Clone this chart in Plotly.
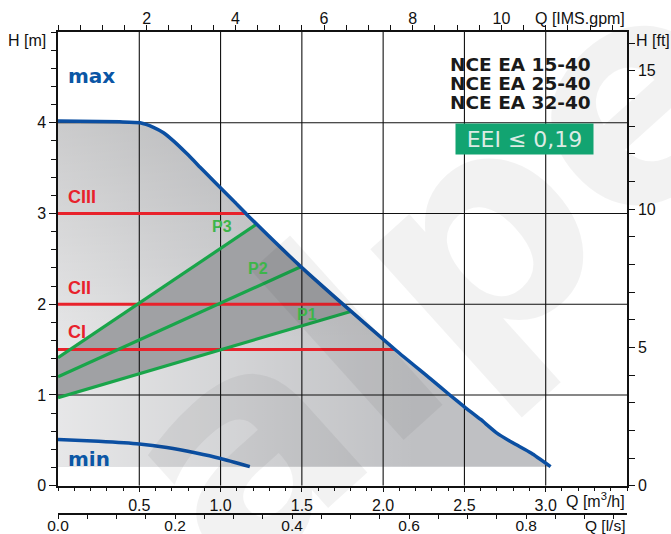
import plotly.graph_objects as go

# ---------------- data ----------------
# max curve  Q [m3/h] , H [m]
max_q = [0, 0.38, 0.505, 0.587, 0.649, 0.71, 0.792, 0.874, 0.956, 1.079, 1.161, 1.49, 1.74,
         2.08, 2.29, 2.41, 2.50, 2.60, 2.70, 2.80, 2.91, 3.03]
max_h = [4.02, 4.01, 4.00, 3.95, 3.89, 3.80, 3.66, 3.51, 3.36, 3.14, 2.99, 2.42, 2.02,
         1.49, 1.18, 1.00, 0.87, 0.73, 0.58, 0.47, 0.36, 0.21]
# min curve
min_q = [0, 0.25, 0.5, 0.67, 0.85, 1.0, 1.18]
min_h = [0.51, 0.49, 0.46, 0.42, 0.36, 0.30, 0.21]
floor_h = 0.21

# constant pressure lines
c_names = ["CI", "CII", "CIII"]
c_h = [1.5, 2.0, 3.0]
c_qend = [2.07, 1.74, 1.15]
c_label_q = [0.05, 0.05, 0.05]
c_label_h = [1.69, 2.175, 3.18]

# proportional pressure lines
p_names = ["P1", "P2", "P3"]
p_h0 = [0.97, 1.20, 1.41]
p_qend = [1.80, 1.49, 1.22]
p_hend = [1.92, 2.41, 2.88]
p_label_q = [1.53, 1.23, 1.01]
p_label_h = [1.89, 2.395, 2.86]

# axes
q_ticks = [0.5, 1.0, 1.5, 2.0, 2.5, 3.0]
h_ticks = [0, 1, 2, 3, 4]
gpm_ticks = [2, 4, 6, 8, 10]
ft_ticks = [0, 5, 10, 15]
ls_ticks = [0.0, 0.2, 0.4, 0.6, 0.8]
grid_q = [0.5, 1.0, 1.5, 2.0, 2.5, 3.0]
grid_h = [1, 2, 3, 4]
models = ["NCE EA 15-40", "NCE EA 25-40", "NCE EA 32-40"]
eei_text = "EEI ≤ 0,19"

Q_MAX, H_MAX = 3.5, 5.0
GPM_PER_M3H = 3.6662
LS_PER_M3H = 1 / 3.6
FT_PER_M = 3.28084

BLUE = "#0b4fa2"
RED = "#e8222b"
GREEN = "#19a54a"
GREEN_TXT = "#3db54a"
FONT = "DejaVu Sans"
AXFONT = "Liberation Sans"

fig = go.Figure()

# ---------------- shaded operating area ----------------
area_x = [0] + max_q + [max_q[-1], 0]
area_y = [floor_h] + max_h + [floor_h, floor_h]
fig.add_trace(go.Scatter(x=area_x, y=area_y, fill="toself", fillcolor="#bfc0c3",
                         mode="lines", line=dict(width=0), hoverinfo="skip", showlegend=False))
fig.add_trace(go.Scatter(x=area_x, y=area_y, fill="toself", mode="lines", line=dict(width=0),
                         fillgradient=dict(type="horizontal", start=0, stop=2.2,
                                           colorscale=[[0, "rgba(255,255,255,0.62)"], [1, "rgba(255,255,255,0)"]]),
                         hoverinfo="skip", showlegend=False))
fig.add_trace(go.Scatter(x=area_x, y=area_y, fill="toself", mode="lines", line=dict(width=0),
                         fillgradient=dict(type="vertical", start=1.5, stop=4.0,
                                           colorscale=[[0, "rgba(0,0,0,0)"], [1, "rgba(0,0,0,0.12)"]]),
                         hoverinfo="skip", showlegend=False))

# darker area between P3 and P1 under the max curve
dark_x = [0, p_qend[2]] + [q for q in max_q if p_qend[2] < q < p_qend[0]] + [p_qend[0], 0]
dark_y = [p_h0[2], p_hend[2]] + [h for q, h in zip(max_q, max_h) if p_qend[2] < q < p_qend[0]] + [p_hend[0], p_h0[0]]
fig.add_trace(go.Scatter(x=dark_x, y=dark_y, fill="toself", fillcolor="#a0a1a4",
                         mode="lines", line=dict(width=0), hoverinfo="skip", showlegend=False))

# ---------------- grid lines (above the fill) ----------------
gx, gy = [], []
for q in grid_q:
    gx += [q, q, None]
    gy += [0, H_MAX, None]
for h in grid_h:
    gx += [0, Q_MAX, None]
    gy += [h, h, None]
fig.add_trace(go.Scatter(x=gx, y=gy, mode="lines", line=dict(color="#111111", width=1.1),
                         hoverinfo="skip", showlegend=False))

# ---------------- C lines ----------------
for name, h, qe in zip(c_names, c_h, c_qend):
    fig.add_trace(go.Scatter(x=[0, qe], y=[h, h], mode="lines", line=dict(color=RED, width=3),
                             showlegend=False, name=name))
# ---------------- P lines ----------------
for name, h0, qe, he in zip(p_names, p_h0, p_qend, p_hend):
    fig.add_trace(go.Scatter(x=[0, qe], y=[h0, he], mode="lines", line=dict(color=GREEN, width=3.2),
                             showlegend=False, name=name))
# ---------------- max / min curves ----------------
fig.add_trace(go.Scatter(x=max_q, y=max_h, mode="lines", line=dict(color=BLUE, width=3.5, shape="spline", smoothing=0.5),
                         showlegend=False, name="max"))
fig.add_trace(go.Scatter(x=min_q, y=min_h, mode="lines", line=dict(color=BLUE, width=3.5, shape="spline", smoothing=0.5),
                         showlegend=False, name="min"))

# invisible traces to activate secondary axes
fig.add_trace(go.Scatter(x=[0], y=[0], xaxis="x2", yaxis="y", mode="markers", marker=dict(opacity=0),
                         hoverinfo="skip", showlegend=False))
fig.add_trace(go.Scatter(x=[0], y=[0], xaxis="x", yaxis="y2", mode="markers", marker=dict(opacity=0),
                         hoverinfo="skip", showlegend=False))
fig.add_trace(go.Scatter(x=[0], y=[0], xaxis="x3", yaxis="y", mode="markers", marker=dict(opacity=0),
                         hoverinfo="skip", showlegend=False))

# ---------------- annotations ----------------
ann = []
# faint watermark (drawn first, under the other texts)
ann.append(dict(x=0.66, y=0.5, xref="paper", yref="paper", text="alpe", showarrow=False,
                textangle=-42, font=dict(family=FONT, size=300, color="rgba(0,0,0,0.05)", weight="bold")))
for name, q, h in zip(c_names, c_label_q, c_label_h):
    ann.append(dict(x=q, y=h, xref="x", yref="y", text=name, showarrow=False, xanchor="left",
                    font=dict(family="Liberation Sans", size=18, color=RED, weight="bold")))
for name, q, h in zip(p_names, p_label_q, p_label_h):
    ann.append(dict(x=q, y=h, xref="x", yref="y", text=name, showarrow=False,
                    font=dict(family="Liberation Sans", size=16, color=GREEN_TXT, weight="bold")))
ann.append(dict(x=0.05, y=4.52, xref="x", yref="y", text="max", showarrow=False, xanchor="left",
                font=dict(family=FONT, size=20, color="#0a56a5", weight="bold")))
ann.append(dict(x=0.05, y=0.295, xref="x", yref="y", text="min", showarrow=False, xanchor="left",
                font=dict(family=FONT, size=20, color="#0a56a5", weight="bold")))
for i, m in enumerate(models):
    ann.append(dict(x=3.29, y=4.64 - i * 0.21, xref="x", yref="y", text=m, showarrow=False,
                    xanchor="right", font=dict(family=FONT, size=18.5, color="#1a1a1a", weight="bold")))
ann.append(dict(x=2.87, y=3.823, xref="x", yref="y", text=eei_text, showarrow=False,
                width=137, height=30, bgcolor="#12a471", borderpad=0,
                font=dict(family=FONT, size=22, color="#dcebe4")))
# axis titles (paper coordinates: 0 = bottom of plotting area, 1 = top)
axt = dict(family=AXFONT, size=16, color="#111")
ann.append(dict(x=0, y=4.908, xref="paper", yref="y", text="H [m]", showarrow=False,
                xanchor="right", xshift=-10, font=axt))
ann.append(dict(x=1, y=4.908, xref="paper", yref="y", text="H [ft]", showarrow=False,
                xanchor="left", xshift=7, font=axt))
ann.append(dict(x=1, y=1.027, xref="paper", yref="paper", text="Q [IMS.gpm]", showarrow=False,
                xanchor="right", yanchor="middle", font=axt))
ann.append(dict(x=1, y=0.029, xref="paper", yref="paper", text="Q [m<sup>3</sup>/h]", showarrow=False,
                xanchor="right", yanchor="middle", font=axt))
ann.append(dict(x=1, y=-0.024, xref="paper", yref="paper", text="Q [l/s]", showarrow=False,
                xanchor="right", yanchor="middle", font=dict(family=AXFONT, size=15.5, color="#111")))

tickfont = dict(family=AXFONT, size=16, color="#111")
axis_common = dict(showgrid=False, zeroline=False, showline=True, linecolor="#111", linewidth=1.5,
                   ticks="outside", tickcolor="#111", tickfont=tickfont, layer="above traces",
                   automargin=False)

fig.update_layout(
    width=671, height=534,
    margin=dict(l=58, r=44, t=32, b=20, autoexpand=False),
    paper_bgcolor="white", plot_bgcolor="white",
    showlegend=False,
    annotations=ann,
    xaxis=dict(axis_common, range=[0, Q_MAX], anchor="y", side="bottom",
               tickmode="array", tickvals=q_ticks, ticktext=[f"{v:.1f}" for v in q_ticks],
               ticklen=5, ticklabelstandoff=-1,
               minor=dict(tickmode="linear", tick0=0, dtick=0.1, ticks="outside", ticklen=4,
                          tickcolor="#111", showgrid=False)),
    xaxis2=dict(axis_common, range=[0, Q_MAX * GPM_PER_M3H], overlaying="x", anchor="y", side="top",
                tickmode="array", tickvals=gpm_ticks, ticktext=[str(v) for v in gpm_ticks], ticklen=5,
                ticklabelstandoff=-5,
                minor=dict(tickmode="linear", tick0=0, dtick=0.5, ticks="outside", ticklen=5,
                           tickcolor="#111", showgrid=False)),
    xaxis3=dict(axis_common, range=[0, Q_MAX * LS_PER_M3H], overlaying="x", anchor="free", position=0,
                side="bottom", tickmode="array", tickvals=ls_ticks, ticktext=[f"{v:.1f}" for v in ls_ticks],
                ticklen=4, ticklabelstandoff=-6, tickfont=dict(family=AXFONT, size=15.5, color="#111"),
                minor=dict(tickmode="linear", tick0=0, dtick=0.05, ticks="outside", ticklen=4,
                           tickcolor="#111", showgrid=False)),
    yaxis=dict(axis_common, range=[0, H_MAX], domain=[0.0587, 1], side="left",
               tickmode="array", tickvals=h_ticks, ticktext=[str(v) for v in h_ticks], ticklen=7,
               minor=dict(tickmode="linear", tick0=0, dtick=0.2, ticks="outside", ticklen=5,
                          tickcolor="#111", showgrid=False)),
    yaxis2=dict(axis_common, range=[0, H_MAX * FT_PER_M], overlaying="y", side="right", anchor="x",
                tickmode="array", tickvals=ft_ticks, ticktext=[str(v) for v in ft_ticks], ticklen=6,
                minor=dict(tickmode="linear", tick0=0, dtick=1, ticks="outside", ticklen=6,
                           tickcolor="#111", showgrid=False)),
)

# remove the default 8 px page margin so the figure fills the 671x534 window exactly
fig.write_html("out.html", config={"displayModeBar": False},
               post_script="document.body.style.margin='0';document.body.style.overflow='hidden';")
